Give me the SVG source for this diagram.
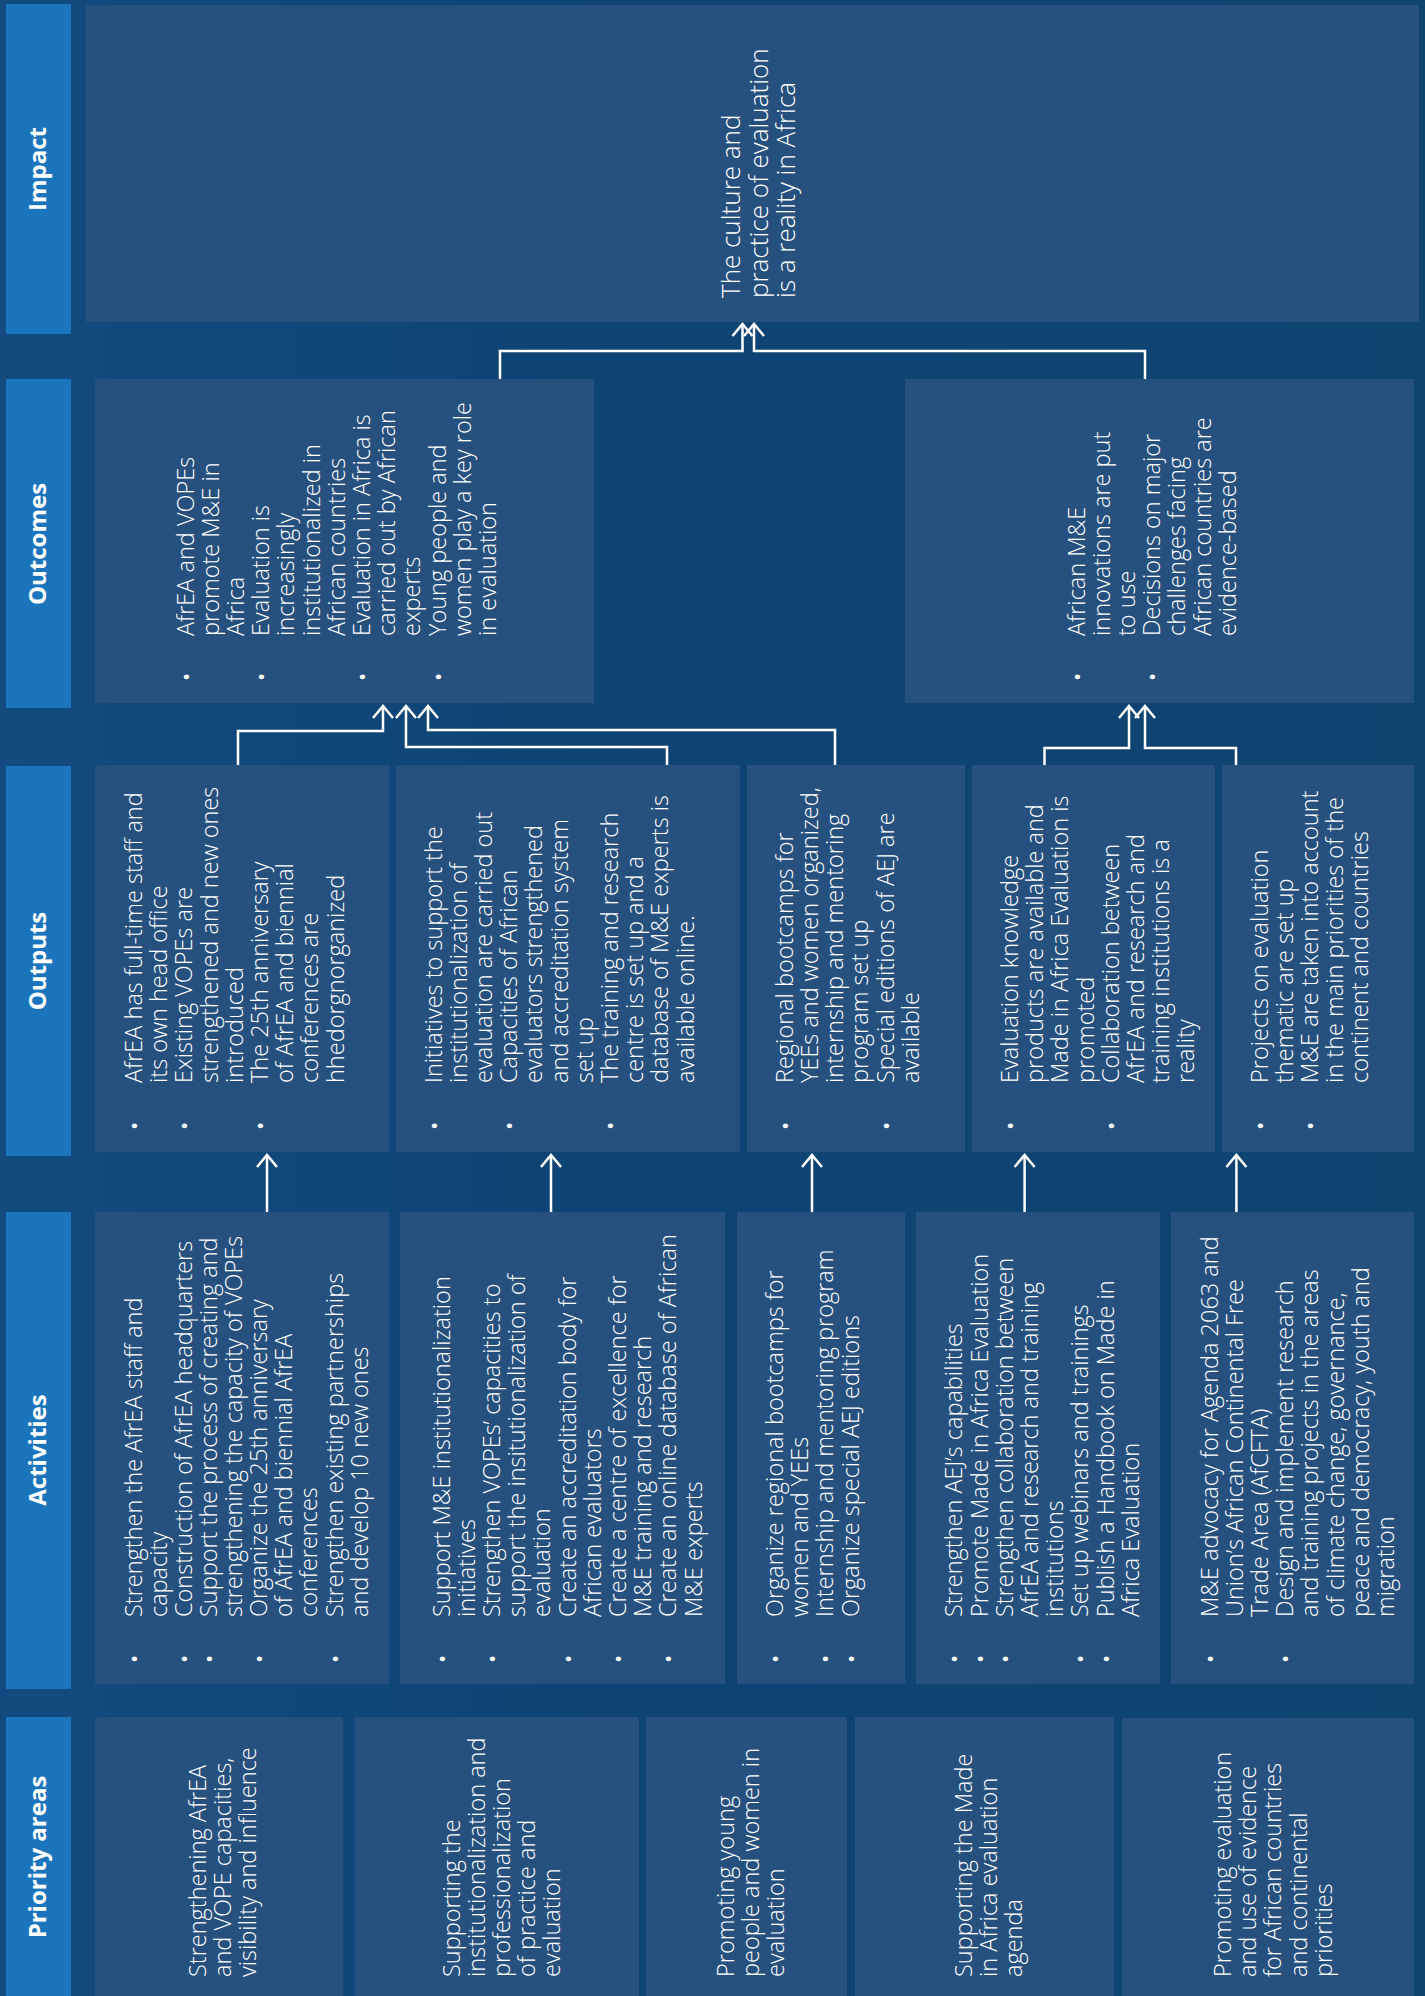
<svg xmlns="http://www.w3.org/2000/svg" width="1425" height="1996" viewBox="0 0 1425 1996">
<defs>
<linearGradient id="bg" x1="0" y1="0" x2="1" y2="0">
<stop offset="0" stop-color="#134a80"/>
<stop offset="0.4" stop-color="#0e4474"/>
<stop offset="1" stop-color="#0f4471"/>
</linearGradient>
<marker id="arr" markerUnits="userSpaceOnUse" markerWidth="20" markerHeight="26" viewBox="-15 -13 18 26" refX="0" refY="0" orient="auto" overflow="visible">
<path d="M-12,-10 L0,0 L-12,10" fill="none" stroke="#fff" stroke-width="2.5"/>
</marker>
<style>
.lab{fill:#1b75bc}
.box{fill:#26517e}
.lt{font-family:"Open Sans","Liberation Sans",sans-serif;font-weight:bold;font-size:24px;fill:#fff;text-anchor:middle}
.t{font-family:"Open Sans","Liberation Sans",sans-serif;font-weight:300;font-size:23.5px;fill:#fff}
.b{font-family:"Open Sans","Liberation Sans",sans-serif;font-weight:400;font-size:22px;fill:#fff}
.ti{font-family:"Open Sans","Liberation Sans",sans-serif;font-weight:300;font-size:26px;fill:#fff}
.c{fill:none;stroke:#fff;stroke-width:2.5;marker-end:url(#arr)}
</style>
</defs>
<rect width="1425" height="1996" fill="url(#bg)"/>

<g id="labels">
<g id="label-impact"><rect class="lab" x="6" y="4" width="65" height="330"/><text class="lt" transform="rotate(-90)" x="-169" y="46">Impact</text></g>
<g id="label-outcomes"><rect class="lab" x="6" y="379" width="65" height="329"/><text class="lt" transform="rotate(-90)" x="-544" y="46">Outcomes</text></g>
<g id="label-outputs"><rect class="lab" x="6" y="766" width="65" height="390"/><text class="lt" transform="rotate(-90)" x="-961" y="46">Outputs</text></g>
<g id="label-activities"><rect class="lab" x="6" y="1212" width="65" height="477"/><text class="lt" transform="rotate(-90)" x="-1450" y="46">Activities</text></g>
<g id="label-priority"><rect class="lab" x="6" y="1717" width="65" height="279"/><text class="lt" transform="rotate(-90)" x="-1857" y="46">Priority areas</text></g>
</g>

<g id="impact">
<rect class="box" x="86" y="5" width="1333" height="317"/>
<text class="ti" transform="rotate(-90)"><tspan x="-298" y="740">The culture and</tspan><tspan x="-298" dy="27.5">practice of evaluation</tspan><tspan x="-298" dy="27.5">is a reality in Africa</tspan></text>
</g>

<g id="outcome-1">
<rect class="box" x="95" y="379" width="499" height="324"/>
<text class="t" transform="rotate(-90)"><tspan x="-636" y="193.5">AfrEA and VOPEs</tspan><tspan x="-636" dy="25.2">promote M&amp;E in</tspan><tspan x="-636" dy="25.2">Africa</tspan><tspan x="-636" dy="25.2">Evaluation is</tspan><tspan x="-636" dy="25.2">increasingly</tspan><tspan x="-636" dy="25.2">institutionalized in</tspan><tspan x="-636" dy="25.2">African countries</tspan><tspan x="-636" dy="25.2">Evaluation in Africa is</tspan><tspan x="-636" dy="25.2">carried out by African</tspan><tspan x="-636" dy="25.2">experts</tspan><tspan x="-636" dy="25.2">Young people and</tspan><tspan x="-636" dy="25.2">women play a key role</tspan><tspan x="-636" dy="25.2">in evaluation</tspan></text>
<text class="b" transform="rotate(-90)"><tspan x="-681" y="193.5">•</tspan><tspan x="-681" y="269.1">•</tspan><tspan x="-681" y="369.9">•</tspan><tspan x="-681" y="445.5">•</tspan></text>
</g>

<g id="outcome-2">
<rect class="box" x="905" y="379" width="509" height="324"/>
<text class="t" transform="rotate(-90)"><tspan x="-636" y="1084.5">African M&amp;E</tspan><tspan x="-636" dy="25.2">innovations are put</tspan><tspan x="-636" dy="25.2">to use</tspan><tspan x="-636" dy="25.2">Decisions on major</tspan><tspan x="-636" dy="25.2">challenges facing</tspan><tspan x="-636" dy="25.2">African countries are</tspan><tspan x="-636" dy="25.2">evidence-based</tspan></text>
<text class="b" transform="rotate(-90)"><tspan x="-681" y="1084.5">•</tspan><tspan x="-681" y="1160.1">•</tspan></text>
</g>

<g id="output-1">
<rect class="box" x="95" y="765" width="294" height="387"/>
<text class="t" transform="rotate(-90)"><tspan x="-1083" y="142">AfrEA has full-time staff and</tspan><tspan x="-1083" dy="25.2">its own head office</tspan><tspan x="-1083" dy="25.2">Existing VOPEs are</tspan><tspan x="-1083" dy="25.2">strengthened and new ones</tspan><tspan x="-1083" dy="25.2">introduced</tspan><tspan x="-1083" dy="25.2">The 25th anniversary</tspan><tspan x="-1083" dy="25.2">of AfrEA and biennial</tspan><tspan x="-1083" dy="25.2">conferences are</tspan><tspan x="-1083" dy="25.2">hhedorgnorganized</tspan></text>
<text class="b" transform="rotate(-90)"><tspan x="-1130" y="142">•</tspan><tspan x="-1130" y="192.4">•</tspan><tspan x="-1130" y="268">•</tspan></text>
</g>

<g id="output-2">
<rect class="box" x="396" y="765" width="344" height="387"/>
<text class="t" transform="rotate(-90)"><tspan x="-1083" y="441.5">Initiatives to support the</tspan><tspan x="-1083" dy="25.2">institutionalization of</tspan><tspan x="-1083" dy="25.2">evaluation are carried out</tspan><tspan x="-1083" dy="25.2">Capacities of African</tspan><tspan x="-1083" dy="25.2">evaluators strengthened</tspan><tspan x="-1083" dy="25.2">and accreditation system</tspan><tspan x="-1083" dy="25.2">set up</tspan><tspan x="-1083" dy="25.2">The training and research</tspan><tspan x="-1083" dy="25.2">centre is set up and a</tspan><tspan x="-1083" dy="25.2">database of M&amp;E experts is</tspan><tspan x="-1083" dy="25.2">available online.</tspan></text>
<text class="b" transform="rotate(-90)"><tspan x="-1130" y="441.5">•</tspan><tspan x="-1130" y="517.1">•</tspan><tspan x="-1130" y="617.9">•</tspan></text>
</g>

<g id="output-3">
<rect class="box" x="747" y="765" width="218" height="387"/>
<text class="t" transform="rotate(-90)"><tspan x="-1083" y="792.7">Regional bootcamps for</tspan><tspan x="-1083" dy="25.2">YEEs and women organized,</tspan><tspan x="-1083" dy="25.2">internship and mentoring</tspan><tspan x="-1083" dy="25.2">program set up</tspan><tspan x="-1083" dy="25.2">Special editions of AEJ are</tspan><tspan x="-1083" dy="25.2">available</tspan></text>
<text class="b" transform="rotate(-90)"><tspan x="-1130" y="792.7">•</tspan><tspan x="-1130" y="893.5">•</tspan></text>
</g>

<g id="output-4">
<rect class="box" x="972" y="765" width="243" height="387"/>
<text class="t" transform="rotate(-90)"><tspan x="-1083" y="1018">Evaluation knowledge</tspan><tspan x="-1083" dy="25.2">products are available and</tspan><tspan x="-1083" dy="25.2">Made in Africa Evaluation is</tspan><tspan x="-1083" dy="25.2">promoted</tspan><tspan x="-1083" dy="25.2">Collaboration between</tspan><tspan x="-1083" dy="25.2">AfrEA and research and</tspan><tspan x="-1083" dy="25.2">training institutions is a</tspan><tspan x="-1083" dy="25.2">reality</tspan></text>
<text class="b" transform="rotate(-90)"><tspan x="-1130" y="1018">•</tspan><tspan x="-1130" y="1118.8">•</tspan></text>
</g>

<g id="output-5">
<rect class="box" x="1222" y="765" width="192" height="387"/>
<text class="t" transform="rotate(-90)"><tspan x="-1083" y="1267.6">Projects on evaluation</tspan><tspan x="-1083" dy="25.2">thematic are set up</tspan><tspan x="-1083" dy="25.2">M&amp;E are taken into account</tspan><tspan x="-1083" dy="25.2">in the main priorities of the</tspan><tspan x="-1083" dy="25.2">continent and countries</tspan></text>
<text class="b" transform="rotate(-90)"><tspan x="-1130" y="1267.6">•</tspan><tspan x="-1130" y="1318">•</tspan></text>
</g>

<g id="activity-1">
<rect class="box" x="95" y="1212" width="294" height="472"/>
<text class="t" transform="rotate(-90)"><tspan x="-1617" y="141.7">Strengthen the AfrEA staff and</tspan><tspan x="-1617" dy="25.1">capacity</tspan><tspan x="-1617" dy="25.1">Construction of AfrEA headquarters</tspan><tspan x="-1617" dy="25.1">Support the process of creating and</tspan><tspan x="-1617" dy="25.1">strengthening the capacity of VOPEs</tspan><tspan x="-1617" dy="25.1">Organize the 25th anniversary</tspan><tspan x="-1617" dy="25.1">of AfrEA and biennial AfrEA</tspan><tspan x="-1617" dy="25.1">conferences</tspan><tspan x="-1617" dy="25.1">Strengthen existing partnerships</tspan><tspan x="-1617" dy="25.1">and develop 10 new ones</tspan></text>
<text class="b" transform="rotate(-90)"><tspan x="-1663" y="141.7">•</tspan><tspan x="-1663" y="191.9">•</tspan><tspan x="-1663" y="217">•</tspan><tspan x="-1663" y="267.2">•</tspan><tspan x="-1663" y="342.5">•</tspan></text>
</g>

<g id="activity-2">
<rect class="box" x="400" y="1212" width="325" height="472"/>
<text class="t" transform="rotate(-90)"><tspan x="-1617" y="449.6">Support M&amp;E institutionalization</tspan><tspan x="-1617" dy="25.2">initiatives</tspan><tspan x="-1617" dy="25.2">Strengthen VOPEs’ capacities to</tspan><tspan x="-1617" dy="25.2">support the insitutionalization of</tspan><tspan x="-1617" dy="25.2">evaluation</tspan><tspan x="-1617" dy="25.2">Create an accreditation body for</tspan><tspan x="-1617" dy="25.2">African evaluators</tspan><tspan x="-1617" dy="25.2">Create a centre of excellence for</tspan><tspan x="-1617" dy="25.2">M&amp;E training and research</tspan><tspan x="-1617" dy="25.2">Create an online database of African</tspan><tspan x="-1617" dy="25.2">M&amp;E experts</tspan></text>
<text class="b" transform="rotate(-90)"><tspan x="-1663" y="449.6">•</tspan><tspan x="-1663" y="500">•</tspan><tspan x="-1663" y="575.6">•</tspan><tspan x="-1663" y="626">•</tspan><tspan x="-1663" y="676.4">•</tspan></text>
</g>

<g id="activity-3">
<rect class="box" x="737" y="1212" width="168" height="472"/>
<text class="t" transform="rotate(-90)"><tspan x="-1617" y="783">Organize regional bootcamps for</tspan><tspan x="-1617" dy="25.2">women and YEEs</tspan><tspan x="-1617" dy="25.2">Internship and mentoring program</tspan><tspan x="-1617" dy="25.2">Organize special AEJ editions</tspan></text>
<text class="b" transform="rotate(-90)"><tspan x="-1663" y="783">•</tspan><tspan x="-1663" y="833.4">•</tspan><tspan x="-1663" y="858.6">•</tspan></text>
</g>

<g id="activity-4">
<rect class="box" x="916" y="1212" width="244" height="472"/>
<text class="t" transform="rotate(-90)"><tspan x="-1617" y="962.4">Strengthen AEJ’s capabilities</tspan><tspan x="-1617" dy="25.2">Promote Made in Africa Evaluation</tspan><tspan x="-1617" dy="25.2">Strengthen collaboration between</tspan><tspan x="-1617" dy="25.2">AfrEA and research and training</tspan><tspan x="-1617" dy="25.2">institutions</tspan><tspan x="-1617" dy="25.2">Set up webinars and trainings</tspan><tspan x="-1617" dy="25.2">Publish a Handbook on Made in</tspan><tspan x="-1617" dy="25.2">Africa Evaluation</tspan></text>
<text class="b" transform="rotate(-90)"><tspan x="-1663" y="962.4">•</tspan><tspan x="-1663" y="987.6">•</tspan><tspan x="-1663" y="1012.8">•</tspan><tspan x="-1663" y="1088.4">•</tspan><tspan x="-1663" y="1113.6">•</tspan></text>
</g>

<g id="activity-5">
<rect class="box" x="1171" y="1212" width="243" height="472"/>
<text class="t" transform="rotate(-90)"><tspan x="-1617" y="1217.6">M&amp;E advocacy for Agenda 2063 and</tspan><tspan x="-1617" dy="25.2">Union’s African Continental Free</tspan><tspan x="-1617" dy="25.2">Trade Area (AfCFTA)</tspan><tspan x="-1617" dy="25.2">Design and implement research</tspan><tspan x="-1617" dy="25.2">and training projects in the areas</tspan><tspan x="-1617" dy="25.2">of climate change, governance,</tspan><tspan x="-1617" dy="25.2">peace and democracy, youth and</tspan><tspan x="-1617" dy="25.2">migration</tspan></text>
<text class="b" transform="rotate(-90)"><tspan x="-1663" y="1217.6">•</tspan><tspan x="-1663" y="1293.2">•</tspan></text>
</g>

<g id="priority-1">
<rect class="box" x="95" y="1717" width="248" height="279"/>
<text class="t" transform="rotate(-90)"><tspan x="-1977" y="206">Strengthening AfrEA</tspan><tspan x="-1977" dy="25.2">and VOPE capacities,</tspan><tspan x="-1977" dy="25.2">visibility and influence</tspan></text>
</g>
<g id="priority-2">
<rect class="box" x="355" y="1717" width="284" height="279"/>
<text class="t" transform="rotate(-90)"><tspan x="-1977" y="459.5">Supporting the</tspan><tspan x="-1977" dy="25.2">institutionalization and</tspan><tspan x="-1977" dy="25.2">professionalization</tspan><tspan x="-1977" dy="25.2">of practice and</tspan><tspan x="-1977" dy="25.2">evaluation</tspan></text>
</g>
<g id="priority-3">
<rect class="box" x="646" y="1717" width="201" height="279"/>
<text class="t" transform="rotate(-90)"><tspan x="-1977" y="734">Promoting young</tspan><tspan x="-1977" dy="25.2">people and women in</tspan><tspan x="-1977" dy="25.2">evaluation</tspan></text>
</g>
<g id="priority-4">
<rect class="box" x="855" y="1717" width="259" height="279"/>
<text class="t" transform="rotate(-90)"><tspan x="-1977" y="972">Supporting the Made</tspan><tspan x="-1977" dy="25.2">in Africa evaluation</tspan><tspan x="-1977" dy="25.2">agenda</tspan></text>
</g>
<g id="priority-5">
<rect class="box" x="1122" y="1718" width="292" height="278"/>
<text class="t" transform="rotate(-90)"><tspan x="-1977" y="1231">Promoting evaluation</tspan><tspan x="-1977" dy="25.2">and use of evidence</tspan><tspan x="-1977" dy="25.2">for African countries</tspan><tspan x="-1977" dy="25.2">and continental</tspan><tspan x="-1977" dy="25.2">priorities</tspan></text>
</g>

<g id="connectors">
<path class="c" d="M500,379 V351 H742.5 V324"/>
<path class="c" d="M1145,379 V351 H754 V324"/>
<path class="c" d="M238,765 V731 H383 V706"/>
<path class="c" d="M667,765 V747 H406 V706"/>
<path class="c" d="M835,765 V730 H428 V706"/>
<path class="c" d="M1044.5,765 V748 H1129 V706"/>
<path class="c" d="M1236,765 V748 H1145 V706"/>
<path class="c" d="M267,1212 V1155"/>
<path class="c" d="M551,1212 V1155"/>
<path class="c" d="M812,1212 V1155"/>
<path class="c" d="M1024.6,1212 V1155"/>
<path class="c" d="M1236.4,1212 V1155"/>
</g>
</svg>
